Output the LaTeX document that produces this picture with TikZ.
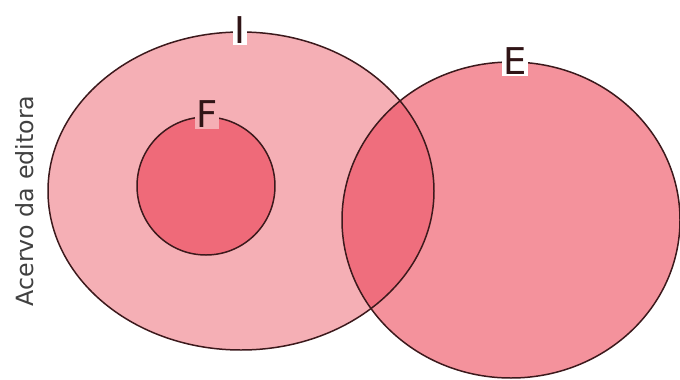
\documentclass[tikz,border=0pt]{standalone}
\usepackage{fontspec}
\setmainfont{DejaVu Sans}
\usepackage{xcolor}
\usepackage{tikz}
\usetikzlibrary{positioning}

\definecolor{setI}{RGB}{245,175,181}
\definecolor{setE}{RGB}{244,146,156}
\definecolor{setIE}{RGB}{239,110,125}
\definecolor{setF}{RGB}{239,106,121}
\definecolor{rim}{RGB}{60,25,28}

\begin{document}
\begin{tikzpicture}[
  x=0.02cm, y=-0.02cm,
  rimline/.style={draw=rim, line width=0.85pt},
  setlabel/.style={font=\fontsize{21}{21}\selectfont, inner sep=1pt, text=rim!80!black},
  side/.style={font=\fontsize{13.5}{14}\selectfont, rotate=90, text=black!75}
]
\useasboundingbox (0,0) rectangle (680,379);
% fills: I, E and their overlap
\fill[setI] (241,191) ellipse [x radius=193, y radius=159];
\fill[setE] (511,220) ellipse [x radius=169, y radius=158];
\begin{scope}
  \clip (241,191) ellipse [x radius=193, y radius=159];
  \fill[setIE] (511,220) ellipse [x radius=169, y radius=158];
\end{scope}
\draw[rimline] (241,191) ellipse [x radius=193, y radius=159];
\draw[rimline] (511,220) ellipse [x radius=169, y radius=158];
% inner set F
\draw[rimline, fill=setF] (206,186) circle [radius=69];
% labels sit on the rims
\node[setlabel, fill=white] (lI) at (240,30) {I};
\node[setlabel, fill=white] (lE) at (515,61) {E};
\node[setlabel, fill=setI] (lF) at (207,114) {F};
\node[side] (acervo) at (25,201) {Acervo da editora};
\end{tikzpicture}
\end{document}
